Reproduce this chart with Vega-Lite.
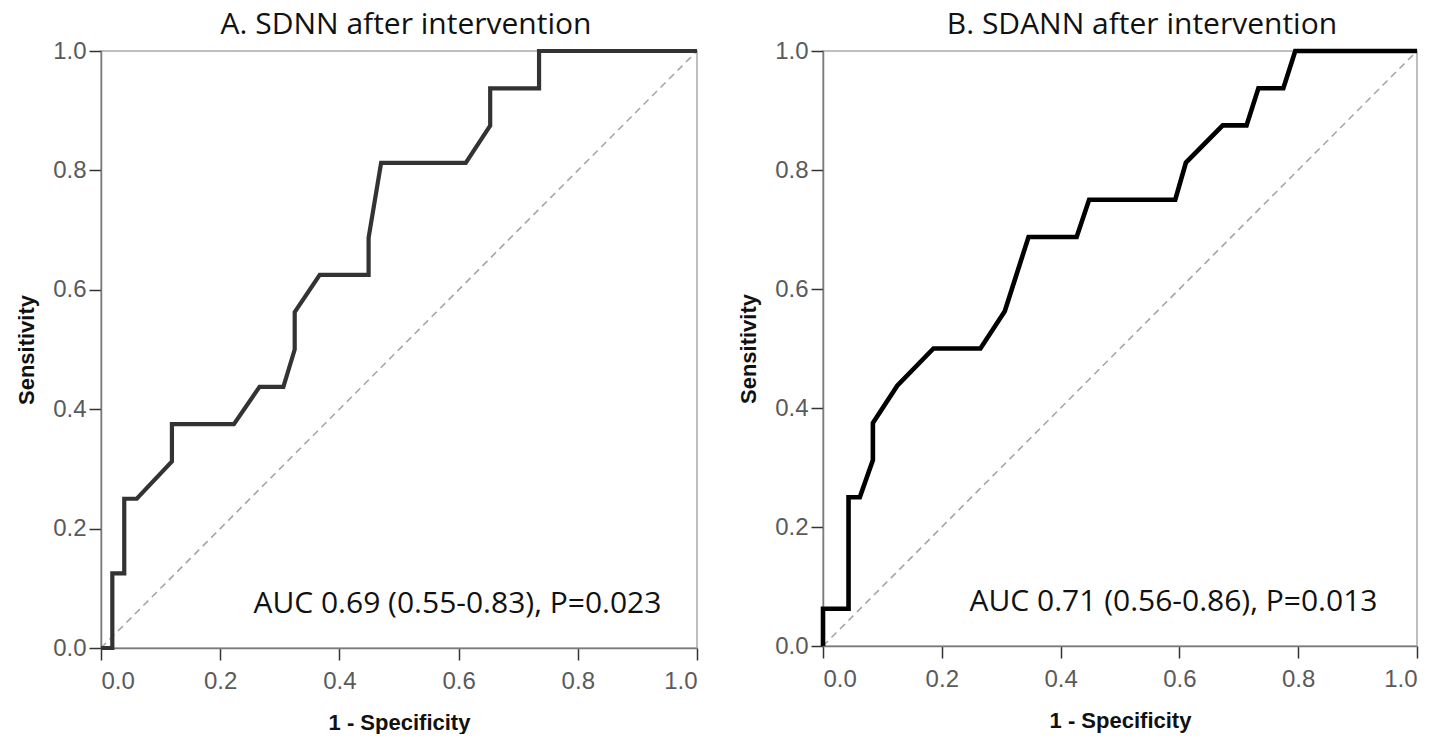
{
  "$schema": "https://vega.github.io/schema/vega-lite/v6.json",
  "background": "white",
  "padding": {"left": 14, "top": 9, "right": 0, "bottom": 0},
  "datasets": {
    "rocA": [
      {"fpr": 0, "tpr": 0}, {"fpr": 0.019, "tpr": 0}, {"fpr": 0.019, "tpr": 0.125},
      {"fpr": 0.039, "tpr": 0.125}, {"fpr": 0.039, "tpr": 0.25}, {"fpr": 0.06, "tpr": 0.25},
      {"fpr": 0.119, "tpr": 0.3125}, {"fpr": 0.119, "tpr": 0.375}, {"fpr": 0.223, "tpr": 0.375},
      {"fpr": 0.266, "tpr": 0.4375}, {"fpr": 0.306, "tpr": 0.4375}, {"fpr": 0.325, "tpr": 0.5},
      {"fpr": 0.325, "tpr": 0.5625}, {"fpr": 0.367, "tpr": 0.625}, {"fpr": 0.449, "tpr": 0.625},
      {"fpr": 0.449, "tpr": 0.6875}, {"fpr": 0.47, "tpr": 0.8125}, {"fpr": 0.612, "tpr": 0.8125},
      {"fpr": 0.653, "tpr": 0.875}, {"fpr": 0.653, "tpr": 0.9375}, {"fpr": 0.735, "tpr": 0.9375},
      {"fpr": 0.735, "tpr": 1}, {"fpr": 1, "tpr": 1}
    ],
    "rocB": [
      {"fpr": 0, "tpr": 0}, {"fpr": 0, "tpr": 0.0625}, {"fpr": 0.043, "tpr": 0.0625},
      {"fpr": 0.043, "tpr": 0.25}, {"fpr": 0.062, "tpr": 0.25}, {"fpr": 0.084, "tpr": 0.3125},
      {"fpr": 0.084, "tpr": 0.375}, {"fpr": 0.125, "tpr": 0.4375}, {"fpr": 0.186, "tpr": 0.5},
      {"fpr": 0.265, "tpr": 0.5}, {"fpr": 0.306, "tpr": 0.5625}, {"fpr": 0.346, "tpr": 0.6875},
      {"fpr": 0.427, "tpr": 0.6875}, {"fpr": 0.448, "tpr": 0.75}, {"fpr": 0.593, "tpr": 0.75},
      {"fpr": 0.611, "tpr": 0.8125}, {"fpr": 0.673, "tpr": 0.875}, {"fpr": 0.713, "tpr": 0.875},
      {"fpr": 0.733, "tpr": 0.9375}, {"fpr": 0.775, "tpr": 0.9375}, {"fpr": 0.795, "tpr": 1},
      {"fpr": 1, "tpr": 1}
    ]
  },
  "config": {
    "view": {"stroke": "#aaaaaa", "strokeWidth": 1.5},
    "axis": {
      "grid": false,
      "domainColor": "#7a7a7a",
      "domainWidth": 1.5,
      "tickColor": "#333333",
      "tickSize": 12,
      "tickWidth": 1.5,
      "labelFont": "Liberation Sans",
      "labelFontSize": 24,
      "labelColor": "#5a5a5a",
      "titleFont": "Liberation Sans",
      "titleFontSize": 22,
      "titleFontWeight": "bold",
      "titleColor": "#111111"
    },
    "axisX": {"labelPadding": 9, "titlePadding": 19},
    "axisY": {"labelPadding": 3, "titlePadding": 14},
    "title": {"font": "Open Sans", "fontSize": 30, "fontWeight": "normal", "color": "#111111"},
    "concat": {"spacing": 126}
  },
  "bounds": "flush",
  "hconcat": [
    {
      "width": 596,
      "height": 597,
      "title": {"text": "A. SDNN after intervention", "dx": 7, "offset": -1},
      "layer": [
        {
          "data": {"values": [{}]},
          "mark": {"type": "rule", "color": "#a6a6a6", "strokeWidth": 1.6, "strokeDash": [7, 5]},
          "encoding": {
            "x": {"datum": 0, "type": "quantitative"},
            "y": {"datum": 0, "type": "quantitative"},
            "x2": {"datum": 1},
            "y2": {"datum": 1}
          }
        },
        {
          "data": {"name": "rocA"},
          "mark": {"type": "line", "color": "#333333", "strokeWidth": 4.2, "strokeJoin": "miter"},
          "encoding": {
            "x": {"field": "fpr", "type": "quantitative", "scale": {"domain": [0, 1], "nice": false},
                  "axis": {"title": "1 - Specificity", "values": [0, 0.2, 0.4, 0.6, 0.8, 1], "format": ".1f"}},
            "y": {"field": "tpr", "type": "quantitative", "scale": {"domain": [0, 1], "nice": false},
                  "axis": {"title": "Sensitivity", "values": [0, 0.2, 0.4, 0.6, 0.8, 1], "format": ".1f"}},
            "order": {"field": "fpr", "type": "quantitative"}
          }
        },
        {
          "data": {"values": [{}]},
          "mark": {"type": "text", "font": "Open Sans", "fontSize": 30, "color": "#111111", "align": "center", "baseline": "alphabetic"},
          "encoding": {
            "x": {"datum": 0.598, "type": "quantitative"},
            "y": {"datum": 0.058, "type": "quantitative"},
            "text": {"value": "AUC 0.69 (0.55-0.83), P=0.023"}
          }
        }
      ]
    },
    {
      "width": 594,
      "height": 595,
      "title": {"text": "B. SDANN after intervention", "dx": 22, "offset": -1},
      "layer": [
        {
          "data": {"values": [{}]},
          "mark": {"type": "rule", "color": "#a6a6a6", "strokeWidth": 1.6, "strokeDash": [7, 5]},
          "encoding": {
            "x": {"datum": 0, "type": "quantitative"},
            "y": {"datum": 0, "type": "quantitative"},
            "x2": {"datum": 1},
            "y2": {"datum": 1}
          }
        },
        {
          "data": {"name": "rocB"},
          "mark": {"type": "line", "color": "#000000", "strokeWidth": 4.6, "strokeJoin": "miter"},
          "encoding": {
            "x": {"field": "fpr", "type": "quantitative", "scale": {"domain": [0, 1], "nice": false},
                  "axis": {"title": "1 - Specificity", "values": [0, 0.2, 0.4, 0.6, 0.8, 1], "format": ".1f"}},
            "y": {"field": "tpr", "type": "quantitative", "scale": {"domain": [0, 1], "nice": false},
                  "axis": {"title": "Sensitivity", "values": [0, 0.2, 0.4, 0.6, 0.8, 1], "format": ".1f"}},
            "order": {"field": "fpr", "type": "quantitative"}
          }
        },
        {
          "data": {"values": [{}]},
          "mark": {"type": "text", "font": "Open Sans", "fontSize": 30, "color": "#111111", "align": "center", "baseline": "alphabetic"},
          "encoding": {
            "x": {"datum": 0.59, "type": "quantitative"},
            "y": {"datum": 0.058, "type": "quantitative"},
            "text": {"value": "AUC 0.71 (0.56-0.86), P=0.013"}
          }
        }
      ]
    }
  ]
}
